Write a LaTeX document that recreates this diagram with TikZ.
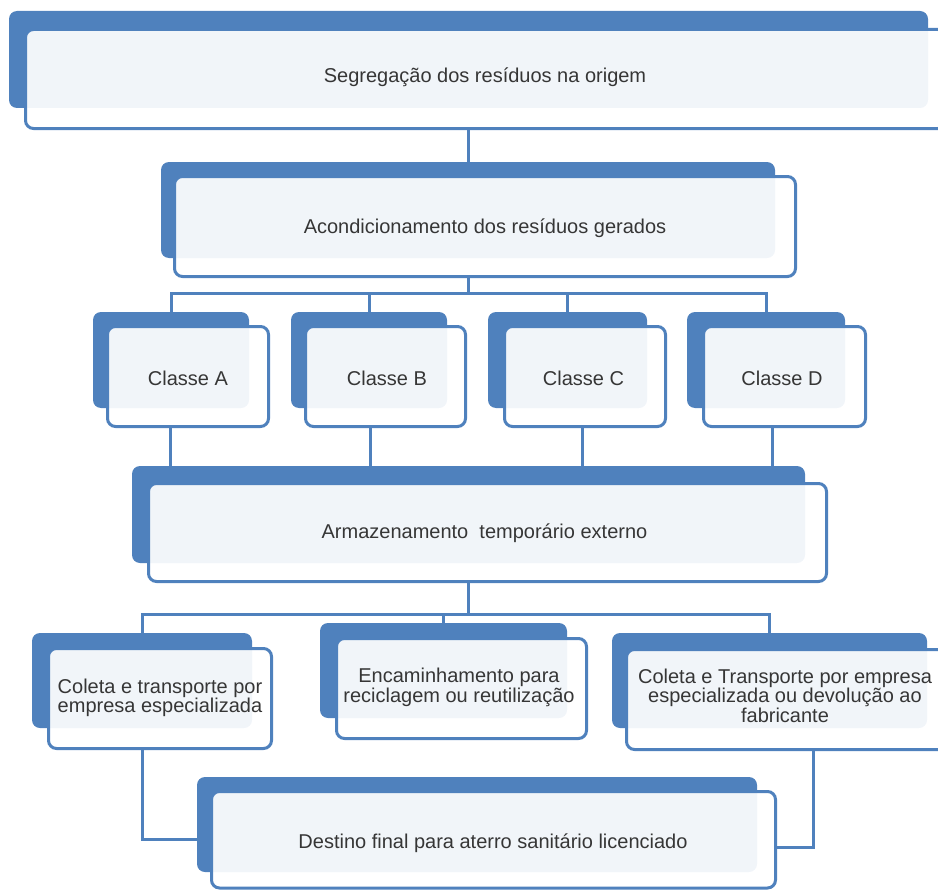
\documentclass[tikz,border=0pt]{standalone}
\usepackage{fontspec}
\setmainfont{Liberation Sans}
\usetikzlibrary{fit,backgrounds}
\definecolor{accent}{HTML}{4F81BD}
\definecolor{txt}{HTML}{363636}
\begin{document}
\begin{tikzpicture}[x=1pt,y=-1pt,
  backbox/.style={fill=accent, draw=none, rounded corners=8pt, inner sep=0pt},
  frontbox/.style={draw=accent, line width=3pt, fill=white, fill opacity=0.92, rounded corners=8pt, inner sep=0pt},
  conn/.style={draw=accent, line width=3pt},
  lbl/.style={text=txt, font=\fontsize{20}{19.5}\selectfont, align=center, inner sep=0pt}]
\useasboundingbox (0,0) rectangle (938,891);
\clip (0,0) rectangle (938,891);
% Segregacao
\node[backbox, fit={(9,11) (928,108)}] (segb) {};
\node[frontbox, fit={(25.5,29.5) (946,128.5)}] (segf) {};
\node[lbl, anchor=base] (seg) at (485,83) {Segregação dos resíduos na origem};
% Acondicionamento
\node[backbox, fit={(161,162) (775,258)}] (acondb) {};
\node[frontbox, fit={(174.5,176.5) (795.5,276.5)}] (acondf) {};
\node[lbl, anchor=base] (acond) at (485,233) {Acondicionamento dos resíduos gerados};
% Classes
\node[backbox, fit={(93,312) (249,408)}] (cAb) {};
\node[frontbox, fit={(107.5,326.5) (268.5,426.5)}] (cAf) {};
\node[lbl, anchor=base] (cA) at (188,385) {Classe A};
\node[backbox, fit={(291,312) (447,408)}] (cBb) {};
\node[frontbox, fit={(305.5,326.5) (465.5,426.5)}] (cBf) {};
\node[lbl, anchor=base] (cB) at (387,385) {Classe B};
\node[backbox, fit={(488,312) (647,408)}] (cCb) {};
\node[frontbox, fit={(504.5,326.5) (665.5,426.5)}] (cCf) {};
\node[lbl, anchor=base] (cC) at (583.5,385) {Classe C};
\node[backbox, fit={(687,312) (845,408)}] (cDb) {};
\node[frontbox, fit={(703.5,326.5) (865.5,426.5)}] (cDf) {};
\node[lbl, anchor=base] (cD) at (782,385) {Classe D};
% Armazenamento
\node[backbox, fit={(132,466) (805,563)}] (armb) {};
\node[frontbox, fit={(148.5,483.5) (826.5,581.5)}] (armf) {};
\node[lbl, anchor=base] (arm) at (484.5,538) {Armazenamento\ \ temporário externo};
% Coleta left
\node[backbox, fit={(32,633) (252,728)}] (colLb) {};
\node[frontbox, fit={(48.5,648.5) (271.5,748.5)}] (colLf) {};
\node[lbl] (colL) at (160,697.8) {Coleta e transporte por\\empresa especializada};
% Encaminhamento
\node[backbox, fit={(320,623) (567,718)}] (encb) {};
\node[frontbox, fit={(336.5,638.5) (586.5,738.5)}] (encf) {};
\node[lbl] (enc) at (459,687.3) {Encaminhamento para\\reciclagem ou reutilização};
% Coleta right
\node[backbox, fit={(612,633) (927,728)}] (colRb) {};
\node[frontbox, fit={(626.5,649.5) (948,749.5)}] (colRf) {};
\node[lbl] (colR) at (785,695.4) {Coleta e Transporte por empresa\\especializada ou devolução ao\\fabricante};
% Destino
\node[backbox, fit={(197,777) (757,872)}] (destb) {};
\node[frontbox, fit={(211.5,791.5) (775.5,888)}] (destf) {};
\node[lbl, anchor=base] (dest) at (493,848) {Destino final para aterro sanitário licenciado};
% connectors
\coordinate (bus1) at (468,293);
\coordinate (bus2) at (468,614);
\coordinate (lA) at (170,466);
\coordinate (lB) at (370,466);
\coordinate (lC) at (582,466);
\coordinate (lD) at (772,466);
\coordinate (jL) at (142,839);
\coordinate (jR) at (813,847);
\begin{scope}[on background layer]
\draw[conn] (acondb.north |- segf.south) -- (acondb.north);
\draw[conn] (acondb.north |- acondf.south) -- (bus1);
\draw[conn] (cAb.north) -- (cAb.north |- bus1) -- (cDb.north |- bus1) -- (cDb.north);
\draw[conn] (cBb.north |- bus1) -- (cBb.north);
\draw[conn] (cCb.north |- bus1) -- (cCb.north);
\draw[conn] (cAf.south -| lA) -- (armb.north -| lA);
\draw[conn] (cBf.south -| lB) -- (armb.north -| lB);
\draw[conn] (cCf.south -| lC) -- (armb.north -| lC);
\draw[conn] (cDf.south -| lD) -- (armb.north -| lD);
\draw[conn] (armf.south -| bus2) -- (bus2);
\draw[conn] (colLb.north) -- (colLb.north |- bus2) -- (colRb.north |- bus2) -- (colRb.north);
\draw[conn] (encb.north |- bus2) -- (encb.north);
\draw[conn] (jL |- colLf.south) -- (jL) -- (jL -| destb.west);
\draw[conn] (jR |- colRf.south) -- (jR) -- (jR -| destf.east);
\end{scope}
\end{tikzpicture}
\end{document}
